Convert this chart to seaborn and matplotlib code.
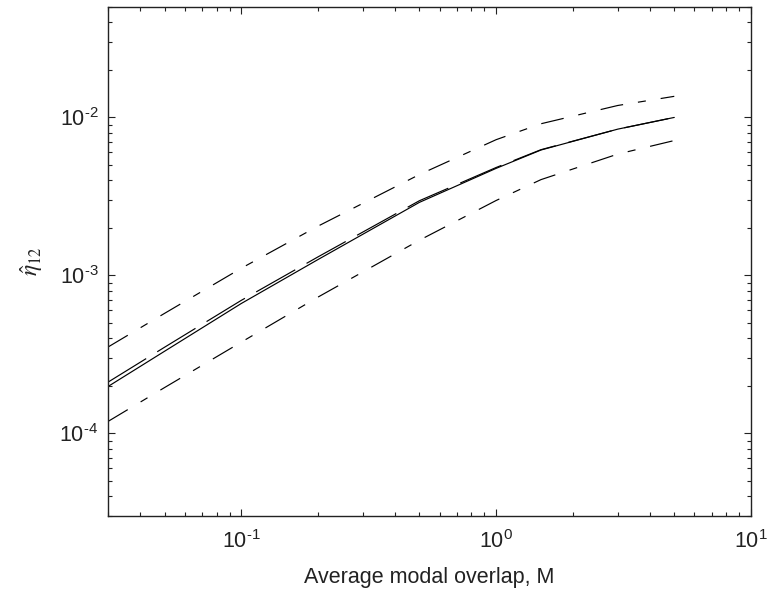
import matplotlib
matplotlib.use("Agg")
import matplotlib.pyplot as plt
import matplotlib.ticker as mticker
import numpy as np
import pandas as pd
import seaborn as sns

# Average modal overlap values at which the estimates are plotted
overlap_M = [0.03, 0.05, 0.1, 0.2, 0.5, 1.0, 1.5, 3.0, 5.0]

# Coupling loss factor estimate and its bounds
eta_mean = [1.98e-4, 3.31e-4, 6.64e-4, 1.26e-3, 2.90e-3, 4.76e-3, 6.22e-3, 8.43e-3, 1.00e-2]
eta_exact = [2.11e-4, 3.51e-4, 6.95e-4, 1.31e-3, 2.97e-3, 4.82e-3, 6.25e-3, 8.43e-3, 1.00e-2]
eta_upper = [3.52e-4, 5.75e-4, 1.11e-3, 2.05e-3, 4.35e-3, 7.23e-3, 9.12e-3, 1.19e-2, 1.36e-2]
eta_lower = [1.19e-4, 1.95e-4, 3.78e-4, 7.29e-4, 1.67e-3, 2.98e-3, 4.04e-3, 5.86e-3, 7.14e-3]

x_ticks = [0.1, 1.0, 10.0]
y_ticks = [1e-4, 1e-3, 1e-2]

sns.set_theme(style="white")
plt.rcParams["font.family"] = ["Liberation Sans", "DejaVu Sans"]
plt.rcParams["mathtext.fontset"] = "custom"
plt.rcParams["mathtext.rm"] = "Liberation Sans"
plt.rcParams["mathtext.it"] = "Liberation Sans:italic"
plt.rcParams["axes.unicode_minus"] = False


def pow10_label(v, pos):
    # "10" with a superscript exponent, using a plain hyphen for negatives
    e = int(round(np.log10(v)))
    exp = r"\text{-}" + str(-e) if e < 0 else str(e)
    return r"$10^{" + exp + "}$"


frames = []
for name, vals in [("mean", eta_mean), ("exact", eta_exact),
                   ("upper", eta_upper), ("lower", eta_lower)]:
    frames.append(pd.DataFrame({"M": overlap_M, "eta": vals, "series": name}))
df = pd.concat(frames, ignore_index=True)

lw = 0.85
dash_styles = {
    "mean": "",
    "exact": (38, 11),
    "upper": (19.5, 12.7, 6.8, 12.7),
    "lower": (19.5, 12.7, 6.8, 12.7),
}

ink = "#222222"
fig = plt.figure(figsize=(7.77, 5.97), dpi=100)
ax = fig.add_axes([108 / 777, 1 - 516 / 597, (751 - 108) / 777, (516 - 7) / 597])

sns.lineplot(data=df, x="M", y="eta", style="series", dashes=dash_styles,
             color="black", linewidth=lw, legend=False, ax=ax,
             estimator=None, sort=False)

ax.set_xscale("log")
ax.set_yscale("log")
ax.set_xlim(0.03, 10)
ax.set_ylim(3e-5, 5e-2)
ax.set_xticks(x_ticks)
ax.set_yticks(y_ticks)
ax.xaxis.set_major_formatter(mticker.FuncFormatter(pow10_label))
ax.yaxis.set_major_formatter(mticker.FuncFormatter(pow10_label))
ax.xaxis.set_minor_locator(mticker.LogLocator(base=10, subs=np.arange(2, 10)))
ax.yaxis.set_minor_locator(mticker.LogLocator(base=10, subs=np.arange(2, 10)))
ax.xaxis.set_minor_formatter(mticker.NullFormatter())
ax.yaxis.set_minor_formatter(mticker.NullFormatter())

ax.tick_params(which="both", direction="in", top=True, right=True,
               bottom=True, left=True, color=ink, width=0.8,
               labelsize=15.5, labelcolor=ink)
ax.tick_params(which="major", length=5)
ax.tick_params(which="minor", length=3)
ax.tick_params(axis="x", which="major", pad=10)
ax.tick_params(axis="y", which="major", pad=7)
for sp in ax.spines.values():
    sp.set_visible(True)
    sp.set_color(ink)
    sp.set_linewidth(1.0)

ax.set_xlabel("Average modal overlap, M", fontsize=15.5, color=ink, labelpad=10)
ax.set_ylabel(r"$\hat{\eta}_{12}$", fontsize=17, color=ink,
              math_fontfamily="stix", labelpad=10)

fig.savefig("out.png", dpi=100)
